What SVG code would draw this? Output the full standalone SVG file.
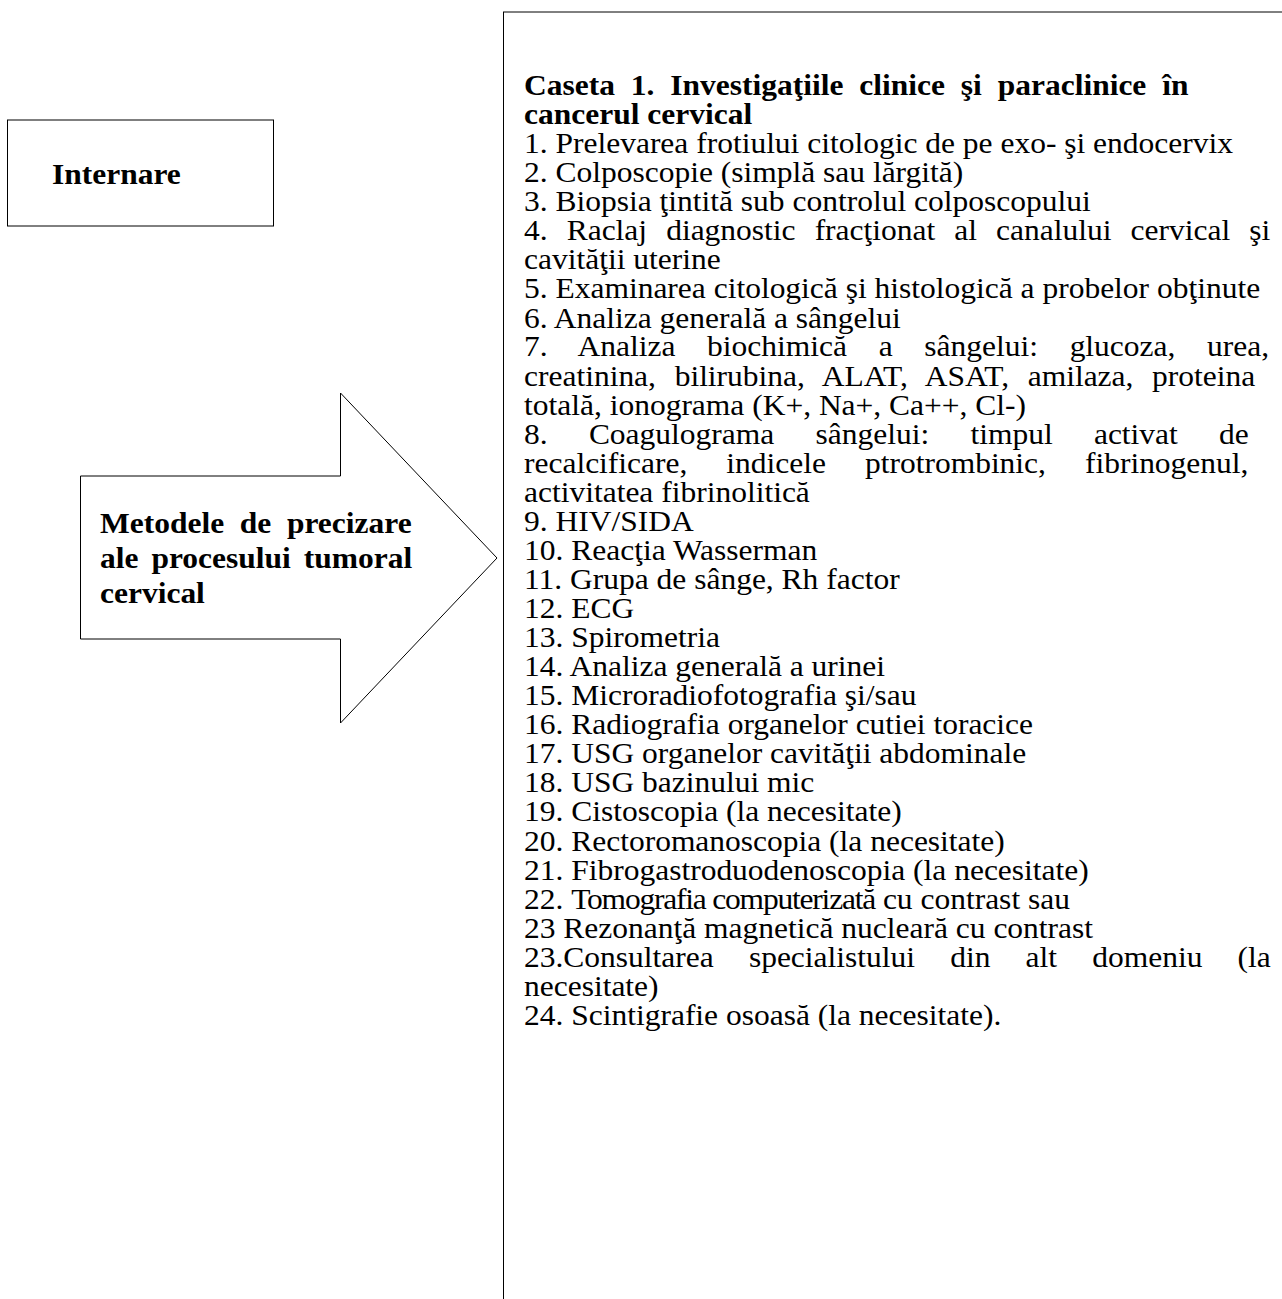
<svg xmlns="http://www.w3.org/2000/svg" width="1282" height="1299" viewBox="0 0 1282 1299">
<style>
.b{font-family:"Liberation Serif","Times New Roman",serif;font-weight:bold;font-size:31.5px;fill:#000}
.r{font-family:"Liberation Serif","Times New Roman",serif;font-size:31.5px;fill:#000}
.ln{stroke:#000;stroke-width:1;fill:none}
</style>
<rect width="1282" height="1299" fill="#fff"/>
<g id="connectors">
<polygon id="arrow" class="ln" fill="#fff" points="80.5,476 340.5,476 340.5,393 497,558 340.5,723 340.5,639 80.5,639"/>
</g>
<g id="internare">
<rect class="ln" x="7.5" y="120" width="266" height="106"/>
<g transform="scale(1,0.92)">
<text class="b" x="52" y="199.6">Internare</text>
</g>
</g>
<g id="metodele">
<g transform="scale(1,0.92)">
<text class="b" x="100" y="579.4" word-spacing="7.8">Metodele de precizare</text>
<text class="b" x="100" y="617.4" word-spacing="5.1">ale procesului tumoral</text>
<text class="b" x="100" y="655.4">cervical</text>
</g>
</g>
<g id="caseta">
<line class="ln" x1="503.5" y1="12" x2="503.5" y2="1299"/>
<line class="ln" x1="503" y1="12" x2="1282" y2="12"/>
<g transform="scale(1,0.92)">
<text class="b" x="524" y="103.3" word-spacing="8">Caseta 1. Investigaţiile clinice şi paraclinice în</text>
<text class="b" x="524" y="134.9">cancerul cervical</text>
<text class="r" x="524" y="166.4">1. Prelevarea frotiului citologic de pe exo- şi endocervix</text>
<text class="r" x="524" y="198.0">2. Colposcopie (simplă sau lărgită)</text>
<text class="r" x="524" y="229.6">3. Biopsia ţintită sub controlul colposcopului</text>
<text class="r" x="524" y="261.2" word-spacing="11.2">4. Raclaj diagnostic fracţionat al canalului cervical şi</text>
<text class="r" x="524" y="292.8">cavităţii uterine</text>
<text class="r" x="524" y="324.4">5. Examinarea citologică şi histologică a probelor obţinute</text>
<text class="r" x="524" y="356.0">6. Analiza generală a sângelui</text>
<text class="r" x="524" y="387.5" word-spacing="23.8">7. Analiza biochimică a sângelui: glucoza, urea,</text>
<text class="r" x="524" y="419.1" word-spacing="10.8">creatinina, bilirubina, ALAT, ASAT, amilaza, proteina</text>
<text class="r" x="524" y="450.7">totală, ionograma (K+, Na+, Ca++, Cl-)</text>
<text class="r" x="524" y="482.3" word-spacing="33.4">8. Coagulograma sângelui: timpul activat de</text>
<text class="r" x="524" y="513.9" word-spacing="31.1">recalcificare, indicele ptrotrombinic, fibrinogenul,</text>
<text class="r" x="524" y="545.5">activitatea fibrinolitică</text>
<text class="r" x="524" y="577.1">9. HIV/SIDA</text>
<text class="r" x="524" y="608.7">10. Reacţia Wasserman</text>
<text class="r" x="524" y="640.2">11. Grupa de sânge, Rh factor</text>
<text class="r" x="524" y="671.8">12. ECG</text>
<text class="r" x="524" y="703.4">13. Spirometria</text>
<text class="r" x="524" y="735.0">14. Analiza generală a urinei</text>
<text class="r" x="524" y="766.6">15. Microradiofotografia şi/sau</text>
<text class="r" x="524" y="798.2">16. Radiografia organelor cutiei toracice</text>
<text class="r" x="524" y="829.8">17. USG organelor cavităţii abdominale</text>
<text class="r" x="524" y="861.4">18. USG bazinului mic</text>
<text class="r" x="524" y="892.9">19. Cistoscopia (la necesitate)</text>
<text class="r" x="524" y="924.5">20. Rectoromanoscopia (la necesitate)</text>
<text class="r" x="524" y="956.1">21. Fibrogastroduodenoscopia (la necesitate)</text>
<text class="r" x="524" y="987.7">22. <tspan letter-spacing="-1.2">Tomografia computerizată</tspan> cu contrast sau</text>
<text class="r" x="524" y="1019.3">23 Rezonanţă magnetică nucleară cu contrast</text>
<text class="r" x="524" y="1050.9" word-spacing="27.3">23.Consultarea specialistului din alt domeniu (la</text>
<text class="r" x="524" y="1082.5">necesitate)</text>
<text class="r" x="524" y="1114.0">24. Scintigrafie osoasă (la necesitate).</text>
</g>
</g>
</svg>
